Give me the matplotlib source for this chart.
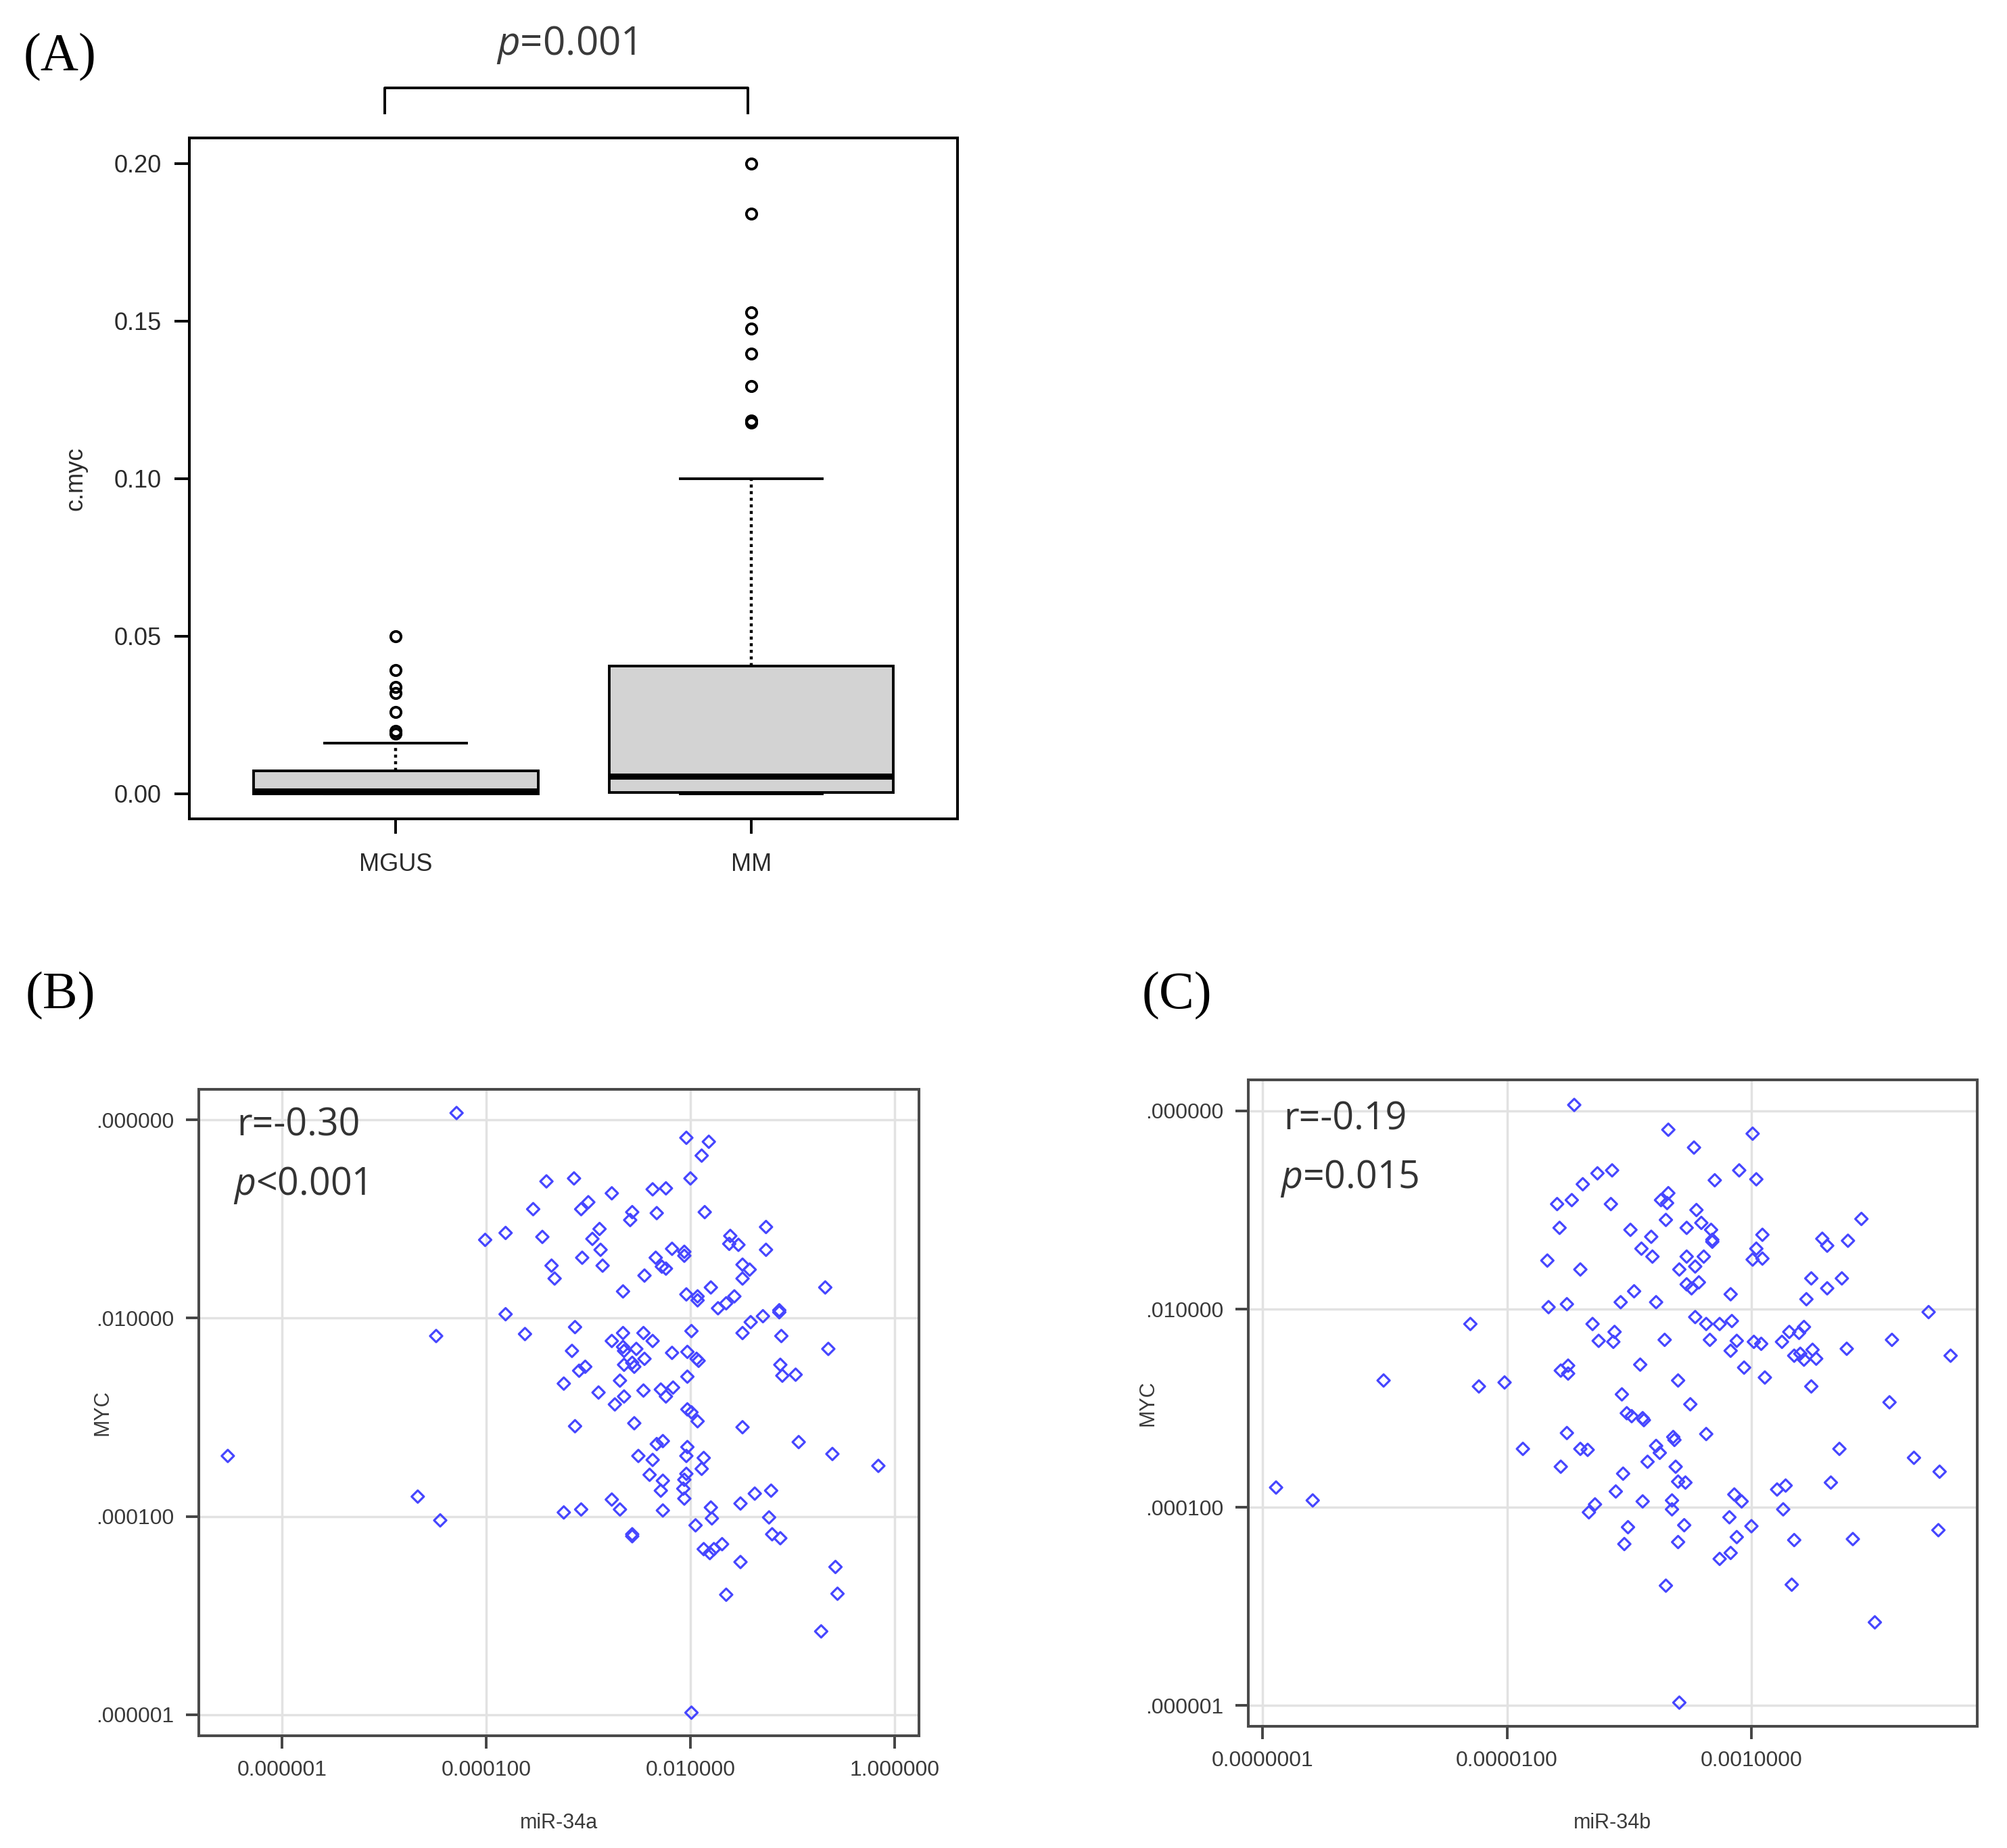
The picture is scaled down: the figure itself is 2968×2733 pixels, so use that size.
import matplotlib
matplotlib.use('Agg')
import matplotlib.pyplot as plt
import numpy as np

plt.rcParams['font.family'] = ['Liberation Sans', 'DejaVu Sans']
plt.rcParams['mathtext.fontset'] = 'custom'
plt.rcParams['mathtext.it'] = 'Open Sans:italic'
plt.rcParams['mathtext.rm'] = 'Open Sans'

# ---- panel A: c.myc box plot (summary stats)
groups = ['MGUS', 'MM']
whislo = [0.0, 0.0]
q1 = [0.0, 0.0005]
med = [0.0008, 0.0055]
q3 = [0.0073, 0.0405]
whishi = [0.0161, 0.100]
fliers_mgus = [0.0500, 0.0393, 0.0338, 0.0320, 0.0259, 0.0199, 0.0190]
fliers_mm = [0.2000, 0.1840, 0.1527, 0.1476, 0.1397, 0.1293, 0.1185, 0.1178]
a_yticks = [0.00, 0.05, 0.10, 0.15, 0.20]
a_yticklabels = ['0.00', '0.05', '0.10', '0.15', '0.20']

# ---- panel B: miR-34a vs MYC (log10 values)
mir34a_log = [-6.53,
    -4.29, -2.04, -1.82, -1.89, -2.00, -3.41, -3.14, -2.77, -2.37, -2.24,
    -3.54, -3.07, -3.00, -2.57, -2.59, -2.33, -1.86, -4.01, -3.81, -3.45,
    -2.89, -2.96, -2.88, -3.06, -2.86, -3.36, -3.33, -2.18, -2.06, -2.06,
    -2.34, -2.28, -2.24, -2.45, -1.61, -1.62, -1.53, -1.26, -1.26, -1.49,
    -1.42, -1.49, -2.66, -2.04, -1.93, -1.93, -1.80, -1.73, -1.65, -1.57,
    -0.68, -1.13, -1.13, -1.29, -1.41, -3.81, -4.49, -3.62, -3.13, -2.66,
    -2.46, -2.77, -2.66, -2.65, -2.37, -1.99, -1.49, -1.11, -3.16, -2.53,
    -2.18, -2.03, -1.94, -1.92, -2.45, -2.57, -2.55, -2.65, -3.03, -3.09,
    -1.12, -1.10, -0.97, -0.65, -2.03, -2.69, -3.24, -2.90, -2.65, -2.74,
    -2.46, -2.29, -2.24, -2.17,
    -2.03, -1.99, -1.93, -2.55, -3.13, -1.49, -0.94, -0.61, -0.16, -2.33,
    -2.27, -2.03, -2.04, -1.87, -2.51, -2.37, -2.40, -2.27, -2.04, -2.06,
    -1.89, -2.29, -2.07, -2.06, -2.77, -2.69, -2.27, -3.07, -3.24, -4.67,
    -4.45, -1.80, -1.79, -1.95, -1.51, -1.37, -1.21, -1.23, -1.20, -1.12,
    -2.57, -2.57, -1.87, -1.81, -1.77, -1.69, -1.51, -0.58, -0.56, -1.65,
    -0.72, -1.99]
myc_b_log = [-3.39,
    0.07, -0.18, -0.22, -0.36, -0.59, -0.62, -0.59, -0.74, -0.70, -0.69,
    -0.90, -0.90, -0.83, -0.93, -1.01, -0.94, -0.93, -1.21, -1.14, -1.18,
    -1.10, -1.20, -1.31, -1.39, -1.47, -1.47, -1.60, -1.30, -1.33, -1.37,
    -1.39, -1.48, -1.50, -1.57, -1.17, -1.25, -1.26, -1.08, -1.31, -1.46,
    -1.51, -1.60, -1.73, -1.76, -1.78, -1.82, -1.69, -1.90, -1.85, -1.78,
    -1.69, -1.92, -1.94, -1.98, -2.04, -1.96, -2.18, -2.16, -2.09, -2.15,
    -2.15, -2.23, -2.29, -2.33, -2.23, -2.13, -2.15, -2.18, -2.33, -2.31,
    -2.35, -2.34, -2.41, -2.43, -2.41, -2.45, -2.49, -2.47, -2.49, -2.53,
    -2.47, -2.58, -2.57, -2.31, -2.59, -2.63, -2.66, -2.75, -2.79, -2.87,
    -2.73, -2.72, -2.79, -2.70,
    -2.92, -2.95, -3.04, -3.06, -3.09, -3.10, -3.25, -3.37, -3.49, -3.27,
    -3.24, -3.30, -3.39, -3.41, -3.39, -3.43, -3.58, -3.64, -3.57, -3.63,
    -3.52, -3.74, -3.72, -3.82, -3.83, -3.93, -3.94, -3.93, -3.96, -3.80,
    -4.04, -3.91, -4.02, -4.09, -3.87, -3.77, -3.74, -4.01, -4.18, -4.22,
    -4.18, -4.20, -4.33, -4.37, -4.33, -4.28, -4.46, -4.51, -4.78, -4.79,
    -5.16, -5.98]

# ---- panel C: miR-34b vs MYC (log10 values)
mir34b_log = [-6.89, -6.59, -6.01,
    -4.45, -3.68, -2.99, -3.47, -4.26, -4.14, -4.38, -3.10, -3.30, -2.96,
    -3.68, -3.74, -3.69, -4.59, -4.47, -4.15, -3.45, -3.70, -4.57, -3.99,
    -3.53, -3.41, -3.33, -3.32, -3.32, -3.82, -2.91, -2.42, -2.38, -2.21,
    -2.10, -3.90, -3.81, -3.53, -3.39, -2.96, -2.99, -2.91, -4.67, -4.40,
    -3.59, -3.46, -3.53, -3.49, -3.43, -3.17, -2.51, -2.26, -2.38, -2.55,
    -3.96, -4.07, -3.78, -4.66, -4.51, -1.55, -5.30, -4.30, -4.12, -4.25,
    -4.13, -3.71, -3.46, -3.37, -3.26, -3.16, -3.34, -3.12, -3.17, -2.98,
    -2.92, -2.75, -2.69, -2.61, -2.57, -2.65, -2.60, -2.57, -2.50, -2.47,
    -2.22, -1.85, -1.37, -4.50, -4.56, -4.50, -3.91, -3.06, -2.89, -3.60,
    -5.23, -5.02, -4.06, -2.51,
    -3.50, -1.87, -4.02, -3.98, -3.89, -3.88, -4.51, -4.87, -4.40, -4.34,
    -4.56, -4.05, -3.85, -3.78, -3.75, -3.64, -3.63, -3.37, -3.62, -3.60,
    -3.54, -4.11, -3.89, -3.65, -3.65, -4.28, -4.33, -4.01, -4.04, -3.55,
    -3.60, -3.14, -3.08, -3.18, -3.00, -3.12, -3.17, -3.26, -2.79, -2.72,
    -2.74, -2.65, -2.35, -2.28, -1.67, -1.46, -1.47, -2.17, -3.70, -2.67,
    -1.99, -3.59]
myc_c_log = [-3.80, -3.93, -2.72,
    0.06, -0.19, -0.23, -0.37, -0.63, -0.60, -0.74, -0.60, -0.70, -0.69,
    -0.83, -0.90, -0.93, -0.94, -0.90, -0.94, -1.00, -1.10, -1.18, -1.20,
    -1.18, -1.13, -1.20, -1.30, -1.32, -1.27, -1.25, -1.29, -1.36, -1.31,
    -1.09, -1.39, -1.47, -1.47, -1.47, -1.39, -1.50, -1.49, -1.51, -1.60,
    -1.60, -1.57, -1.75, -1.79, -1.73, -1.85, -1.69, -1.69, -1.79, -1.90,
    -1.82, -1.93, -1.93, -1.98, -1.95, -2.03, -2.15, -2.15, -2.23, -2.32,
    -2.33, -2.31, -2.08, -2.15, -2.15, -2.12, -2.31, -2.32, -2.42, -2.33,
    -2.35, -2.33, -2.23, -2.24, -2.18, -2.47, -2.45, -2.51, -2.41, -2.50,
    -2.40, -2.31, -2.47, -2.57, -2.62, -2.65, -2.56, -2.59, -2.69, -2.72,
    -2.78, -2.74, -2.86, -2.78,
    -2.96, -2.94, -3.05, -3.08, -3.10, -3.12, -3.25, -3.41, -3.41, -3.42,
    -3.59, -3.66, -3.54, -3.38, -3.45, -3.29, -3.32, -3.26, -3.59, -3.74,
    -3.75, -3.84, -3.94, -3.93, -4.02, -3.97, -4.05, -4.20, -4.37, -4.18,
    -4.35, -3.87, -3.94, -4.10, -4.19, -4.30, -4.46, -4.52, -3.82, -3.78,
    -4.02, -4.33, -3.75, -3.41, -3.50, -3.64, -4.23, -4.32, -4.79, -4.78,
    -5.16, -5.97]

log_yticks = [1e-6, 1e-4, 1e-2, 1.0]
log_yticklabels = ['.000001', '.000100', '.010000', '.000000']
b_xticks = [1e-6, 1e-4, 1e-2, 1.0]
b_xticklabels = ['0.000001', '0.000100', '0.010000', '1.000000']
c_xticks = [1e-7, 1e-5, 1e-3]
c_xticklabels = ['0.0000001', '0.0000100', '0.0010000']

fig = plt.figure(figsize=(29.68, 27.33), dpi=100)

# ================= panel A =================
axA = fig.add_axes([0.0944, 0.5568, 0.3827, 0.3684])
stats = []
fliers = [fliers_mgus, fliers_mm]
for i, g in enumerate(groups):
    stats.append(dict(label=g, whislo=whislo[i], q1=q1[i], med=med[i],
                      q3=q3[i], whishi=whishi[i], fliers=fliers[i]))
axA.bxp(stats, positions=[1, 2], widths=0.8, capwidths=0.4, patch_artist=True,
        boxprops=dict(facecolor='#d3d3d3', edgecolor='black', linewidth=2.8),
        medianprops=dict(color='black', linewidth=6.5),
        whiskerprops=dict(color='black', linewidth=3.2, linestyle=(0, (1, 1.2))),
        capprops=dict(color='black', linewidth=2.8),
        flierprops=dict(marker='o', markerfacecolor='none', markeredgecolor='black',
                        markersize=11, markeredgewidth=2.8))
axA.set_xlim(0.42, 2.58)
axA.set_ylim(-0.008, 0.208)
axA.set_yticks(a_yticks)
axA.set_yticklabels(a_yticklabels)
axA.set_xticks([1, 2])
axA.set_xticklabels(groups)
axA.tick_params(axis='both', length=16, width=2.8, labelsize=26, labelcolor='#2a2a2a')
axA.tick_params(axis='y', pad=14)
axA.tick_params(axis='x', pad=20)
for s in axA.spines.values():
    s.set_linewidth(2.9)
axA.set_ylabel('c.myc', fontsize=26, color='#2a2a2a')
axA.yaxis.set_label_coords(-0.133, 0.5)

# significance bracket
axA.plot([0.97, 0.97, 1.99, 1.99], [0.216, 0.224, 0.224, 0.216], color='black',
         lw=2.8, clip_on=False)
fig.text(0.282, 0.9758, '$p$=0.001', family='Open Sans', fontsize=42,
         color='#3a3a3a', ha='center', va='center')

# ================= scatter panels =================
def log_panel(ax, xs, ys, xlim, xticks, xticklabels, xname, ylab_x, xlab_y, r_txt, p_txt, tx, ty):
    ax.set_xscale('log')
    ax.set_yscale('log')
    ax.scatter(10 ** np.array(xs), 10 ** np.array(ys), marker='D', s=85,
               facecolors='none', edgecolors='#4646ff', linewidths=2.3, zorder=3)
    ax.set_xlim(10 ** xlim[0], 10 ** xlim[1])
    ax.set_ylim(10 ** -6.21, 10 ** 0.31)
    ax.set_xticks(xticks)
    ax.set_xticklabels(xticklabels)
    ax.set_yticks(log_yticks)
    ax.set_yticklabels(log_yticklabels)
    ax.minorticks_off()
    ax.set_axisbelow(True)
    ax.grid(True, which='major', color='#e2e2e2', linewidth=2.5)
    ax.tick_params(axis='both', length=14, width=2.8, color='#444444',
                   labelsize=23, labelcolor='#3a3a3a', pad=12)
    for s in ax.spines.values():
        s.set_linewidth(2.9)
        s.set_color('#4a4a4a')
    ax.set_ylabel('MYC', fontsize=22, color='#3a3a3a')
    ax.yaxis.set_label_coords(ylab_x, 0.5)
    ax.set_xlabel(xname, fontsize=22, color='#3a3a3a')
    ax.xaxis.set_label_coords(0.5, xlab_y)
    ax.xaxis.label.set_va('center')
    ax.text(tx[0], ty[0], r_txt, transform=ax.transAxes, family='Open Sans',
            fontsize=40, color='#333333', va='center')
    ax.text(tx[1], ty[1], p_txt, transform=ax.transAxes, family='Open Sans',
            fontsize=40, color='#333333', va='center')

axB = fig.add_axes([0.0989, 0.0609, 0.3591, 0.3497])
log_panel(axB, mir34a_log, myc_b_log, (-6.817, 0.24), b_xticks, b_xticklabels,
          'miR-34a', -0.119, -0.135, 'r=-0.30', '$p$<0.001', (0.053, 0.048), (0.943, 0.851))

axC = fig.add_axes([0.6218, 0.0658, 0.3635, 0.3497])
log_panel(axC, mir34b_log, myc_c_log, (-7.12, -1.15), c_xticks, c_xticklabels,
          'miR-34b', -0.123, -0.149, 'r=-0.19', '$p$=0.015', (0.049, 0.044), (0.939, 0.848))

# panel letters
for lab, x, y in [('(A)', 0.0115, 0.969), ('(B)', 0.0128, 0.4612), ('(C)', 0.569, 0.4612)]:
    fig.text(x, y, lab, family='Liberation Serif', fontsize=56, va='center', ha='left')

fig.savefig('out.png', dpi=100)
